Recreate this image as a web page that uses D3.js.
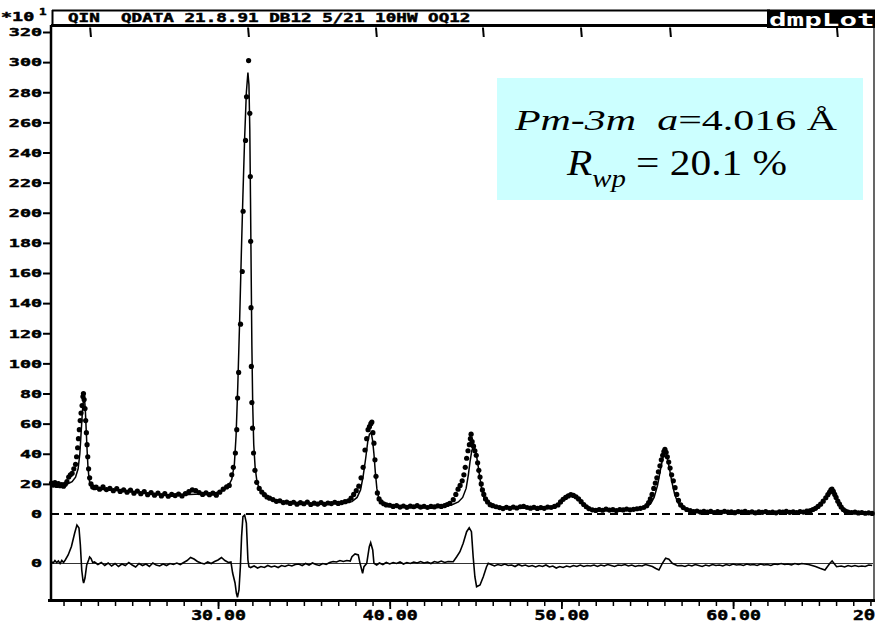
<!DOCTYPE html>
<html><head><meta charset="utf-8">
<script src="https://cdn.jsdelivr.net/npm/d3@7"></script>
<style>body{margin:0;background:#fff} svg{display:block}</style>
</head><body>
<svg id="c" width="875" height="625"></svg>
<script>
// ---- data: [2theta (deg), counts/10] ----
const observed = [[20.30,20.5],[20.40,19.2],[20.50,20.8],[20.60,19.0],[20.70,20.2],[20.80,18.8],[20.90,19.6],[21.00,18.5],[21.10,19.8],[21.20,21.5],[21.30,24.5],[21.40,26.0],[21.50,27.0],[21.60,30.0],[21.70,33.0],[21.76,38.0],[21.82,44.0],[21.87,50.0],[21.92,56.0],[21.97,62.0],[22.02,67.0],[22.08,72.0],[22.13,78.0],[22.16,80.0],[22.20,76.0],[22.25,70.0],[22.29,62.0],[22.33,54.0],[22.37,46.0],[22.41,38.0],[22.46,30.0],[22.52,24.0],[22.60,20.0],[22.70,18.0],[22.80,17.5],[22.90,17.8],[23.10,16.5],[23.30,18.0],[23.50,16.2],[23.70,17.0],[23.90,15.5],[24.10,16.8],[24.30,15.0],[24.50,16.0],[24.70,14.5],[24.90,15.8],[25.10,13.8],[25.30,15.2],[25.50,13.5],[25.70,14.8],[25.90,12.8],[26.10,14.2],[26.30,12.5],[26.50,13.8],[26.70,12.0],[26.90,13.5],[27.10,11.8],[27.30,13.0],[27.50,12.2],[27.70,13.2],[27.90,12.0],[28.10,13.5],[28.30,14.8],[28.50,16.0],[28.70,15.5],[28.90,14.2],[29.10,13.0],[29.30,14.0],[29.50,12.8],[29.70,13.8],[29.90,12.5],[30.10,14.5],[30.30,16.5],[30.50,18.0],[30.65,19.0],[30.80,26.0],[30.89,31.0],[31.01,40.5],[31.09,56.0],[31.14,77.0],[31.20,94.0],[31.31,126],[31.41,161],[31.46,201],[31.60,248],[31.66,277],[31.78,301],[31.85,266],[31.88,224],[31.90,181],[31.92,137],[31.94,98],[31.97,74],[32.01,57],[32.07,40.5],[32.15,29],[32.25,21],[32.40,17],[32.55,14.6],[32.70,12.8],[32.85,11.3],[33.00,10.5],[33.20,9.6],[33.40,8.4],[33.60,8.8],[33.80,7.6],[34.00,7.9],[34.20,7.0],[34.40,7.8],[34.60,6.5],[34.80,7.5],[35.00,6.8],[35.20,7.9],[35.40,6.3],[35.60,7.2],[35.80,6.6],[36.00,7.6],[36.20,6.4],[36.40,7.3],[36.60,6.9],[36.80,7.8],[37.00,7.0],[37.20,7.6],[37.40,8.2],[37.60,8.8],[37.75,10.5],[37.90,13.0],[38.05,15.5],[38.20,18.5],[38.33,24.0],[38.45,31.0],[38.56,42.5],[38.66,50.0],[38.74,56.0],[38.82,58.0],[38.90,60.0],[38.96,61.0],[39.02,54.0],[39.08,47.0],[39.14,36.0],[39.20,25.0],[39.28,14.0],[39.38,10.0],[39.50,8.0],[39.65,6.8],[39.80,6.0],[40.00,5.8],[40.20,5.0],[40.40,5.6],[40.60,4.6],[40.80,5.3],[41.00,4.4],[41.20,5.2],[41.40,4.8],[41.60,5.5],[41.80,4.5],[42.00,5.1],[42.20,4.3],[42.40,5.0],[42.60,4.7],[42.80,5.4],[43.00,5.0],[43.20,5.6],[43.35,6.3],[43.50,7.0],[43.70,9.5],[43.85,13.0],[43.98,16.5],[44.10,19.0],[44.22,22.0],[44.32,26.0],[44.40,31.0],[44.48,37.0],[44.56,42.0],[44.64,46.0],[44.70,50.0],[44.74,53.0],[44.80,48.0],[44.88,45.0],[44.96,42.0],[45.04,39.0],[45.12,34.0],[45.19,29.0],[45.26,24.5],[45.33,20.0],[45.40,16.0],[45.48,13.0],[45.58,10.0],[45.70,8.0],[45.85,6.2],[46.00,5.5],[46.20,4.8],[46.40,4.2],[46.60,3.6],[46.80,4.4],[47.00,3.8],[47.20,4.5],[47.40,4.0],[47.60,4.8],[47.80,5.0],[48.00,4.3],[48.20,3.9],[48.40,4.4],[48.60,3.7],[48.80,4.2],[49.00,3.8],[49.20,4.5],[49.40,4.3],[49.60,5.0],[49.80,6.0],[49.95,8.0],[50.10,9.8],[50.25,11.0],[50.40,12.0],[50.55,12.8],[50.70,12.3],[50.85,11.4],[51.00,10.0],[51.15,8.2],[51.30,6.3],[51.45,4.8],[51.60,3.6],[51.80,2.8],[52.00,2.4],[52.20,3.0],[52.40,2.5],[52.60,3.2],[52.80,2.6],[53.00,2.9],[53.20,2.3],[53.40,3.0],[53.60,2.7],[53.80,3.3],[54.00,2.8],[54.20,3.1],[54.40,3.5],[54.60,3.8],[54.80,4.3],[54.97,5.5],[55.08,7.5],[55.18,10.0],[55.28,13.0],[55.38,17.0],[55.47,20.5],[55.56,24.0],[55.65,28.0],[55.74,32.0],[55.82,36.0],[55.90,39.0],[55.97,41.5],[56.03,43.0],[56.10,41.0],[56.17,38.0],[56.25,34.5],[56.33,30.5],[56.42,26.0],[56.52,22.0],[56.62,17.5],[56.72,13.0],[56.82,9.0],[56.95,6.0],[57.10,4.2],[57.30,3.0],[57.50,2.2],[57.70,1.6],[57.90,2.0],[58.10,1.3],[58.30,1.8],[58.50,1.2],[58.70,1.7],[58.90,1.0],[59.10,1.6],[59.30,1.1],[59.50,1.8],[59.70,1.3],[59.90,1.5],[60.10,0.9],[60.30,1.6],[60.50,1.2],[60.70,1.7],[60.90,1.0],[61.10,1.4],[61.30,0.8],[61.50,1.5],[61.70,1.1],[61.90,1.6],[62.10,1.0],[62.30,1.3],[62.50,0.8],[62.70,1.5],[62.90,1.2],[63.10,1.7],[63.30,1.1],[63.50,1.5],[63.70,1.0],[63.90,1.6],[64.10,1.3],[64.30,1.9],[64.50,2.2],[64.65,3.0],[64.80,3.8],[64.95,5.0],[65.10,6.5],[65.25,8.5],[65.40,10.8],[65.52,12.8],[65.62,14.5],[65.70,16.0],[65.76,16.5],[65.84,15.0],[65.92,13.0],[66.00,11.0],[66.10,8.5],[66.20,6.5],[66.30,4.5],[66.42,3.0],[66.55,2.0],[66.70,1.3],[66.90,1.0],[67.10,1.2],[67.30,0.7],[67.50,1.0],[67.70,0.5],[67.90,0.8],[68.10,0.4]];

const calculated = [[20.27,19.8],[20.8,19.5],[21.2,19.8],[21.5,21.5],[21.7,24.5],[21.85,30],[21.95,40],[22.03,55],[22.10,68],[22.17,77],[22.22,77],[22.27,69],[22.32,56],[22.37,43],[22.42,32],[22.48,24],[22.55,19.5],[22.7,17.2],[23.0,16.5],[24.0,15.8],[25.0,14.8],[26.0,13.8],[27.0,13.0],[28.0,12.8],[29.0,13.2],[29.8,14.0],[30.3,15.5],[30.6,18.5],[30.8,23],[30.95,33],[31.05,52],[31.15,85],[31.25,125],[31.35,170],[31.45,212],[31.55,250],[31.65,280],[31.74,293],[31.80,285],[31.85,255],[31.89,210],[31.93,160],[31.97,112],[32.02,72],[32.08,46],[32.16,31],[32.26,22],[32.4,16.5],[32.6,13],[32.9,10.5],[33.3,8.8],[33.8,7.7],[34.5,7.1],[35.5,6.9],[36.5,6.9],[37.3,7.2],[37.8,8.2],[38.1,11],[38.3,16],[38.45,25],[38.6,37],[38.72,48],[38.82,53],[38.92,54],[39.0,49],[39.08,40],[39.16,28],[39.25,17],[39.35,11],[39.5,8],[39.8,6.3],[40.5,5.4],[41.5,5.0],[42.5,4.9],[43.2,5.2],[43.6,6.0],[44.0,8.0],[44.25,11],[44.45,17],[44.58,26],[44.68,35],[44.78,42],[44.87,44.5],[44.95,43.5],[45.05,39],[45.15,32],[45.25,24],[45.35,17],[45.45,12],[45.6,8.5],[45.8,6.4],[46.1,5.2],[46.6,4.4],[47.5,4.2],[48.5,4.0],[49.3,4.2],[49.7,5.0],[50.0,7.5],[50.2,9.8],[50.4,11.5],[50.6,12.3],[50.8,11.6],[51.0,9.8],[51.2,7.4],[51.4,5.2],[51.7,3.4],[52.2,2.7],[53.5,2.7],[54.4,3.1],[54.9,4.3],[55.2,6.8],[55.4,11],[55.6,19],[55.78,30],[55.92,38],[56.03,41],[56.13,39],[56.28,31],[56.43,21.5],[56.6,13],[56.78,7.5],[56.95,4.8],[57.3,2.8],[58.0,1.7],[60.0,1.3],[62.0,1.2],[64.0,1.4],[64.6,2.2],[64.9,3.8],[65.15,6.5],[65.35,9.8],[65.52,13],[65.66,15.2],[65.78,15.6],[65.9,13.6],[66.04,9.6],[66.2,6],[66.38,3.2],[66.6,1.7],[67.0,1.0],[68.15,0.5]];

const difference = [[20.27,0.2],[20.4,0.05],[20.5,0.3],[20.6,0.1],[20.7,0.25],[20.8,0.0],[20.9,0.3],[21.0,0.1],[21.1,0.35],[21.27,0.85],[21.46,1.7],[21.65,3.05],[21.78,3.85],[21.9,3.55],[21.98,1.85],[22.06,-0.65],[22.13,-1.65],[22.17,-1.95],[22.25,-1.45],[22.35,-0.15],[22.46,0.35],[22.52,0.65],[22.6,0.5],[22.7,0.1],[22.8,0.15],[23.0,-0.1],[23.2,0.1],[23.4,-0.2],[23.6,0.05],[23.8,-0.25],[24.0,0.0],[24.2,-0.3],[24.4,-0.05],[24.6,-0.2],[24.8,0.1],[25.0,-0.15],[25.2,-0.35],[25.4,0.0],[25.6,-0.2],[25.8,-0.05],[26.0,-0.3],[26.2,0.05],[26.4,-0.15],[26.6,-0.25],[26.8,-0.05],[27.0,-0.2],[27.2,0.0],[27.4,-0.1],[27.6,0.05],[27.8,-0.1],[28.0,0.1],[28.2,0.3],[28.4,0.6],[28.6,0.45],[28.8,0.2],[29.0,0.05],[29.2,-0.05],[29.4,0.15],[29.6,0.0],[29.8,0.2],[30.0,0.35],[30.2,0.6],[30.4,0.3],[30.6,0.1],[30.75,0.15],[30.85,-0.95],[30.99,-1.95],[31.07,-2.98],[31.13,-3.38],[31.22,-2.65],[31.30,-0.32],[31.37,2.68],[31.45,4.68],[31.55,4.85],[31.65,4.05],[31.74,0.35],[31.80,-0.32],[31.9,-0.4],[32.1,-0.25],[32.3,-0.45],[32.5,-0.3],[32.7,-0.4],[32.9,-0.2],[33.1,-0.35],[33.3,-0.25],[33.5,-0.4],[33.7,-0.2],[33.9,-0.3],[34.1,-0.15],[34.3,-0.25],[34.5,-0.1],[34.7,-0.05],[34.9,-0.2],[35.1,0.0],[35.3,-0.15],[35.5,0.05],[35.7,-0.1],[35.9,-0.2],[36.1,0.0],[36.3,-0.1],[36.5,0.1],[36.7,0.2],[36.9,0.15],[37.1,0.3],[37.3,0.2],[37.5,0.3],[37.7,0.25],[37.8,0.68],[37.98,0.95],[38.17,0.85],[38.27,0.02],[38.42,-0.98],[38.5,-0.32],[38.66,0.02],[38.81,1.68],[38.89,2.08],[39.01,1.35],[39.08,0.02],[39.24,-0.15],[39.4,0.05],[39.6,-0.1],[39.8,0.1],[40.0,-0.05],[40.2,0.1],[40.4,0.0],[40.6,0.15],[40.8,-0.05],[41.0,0.1],[41.2,0.0],[41.4,0.15],[41.6,0.05],[41.8,0.2],[42.0,0.05],[42.2,0.15],[42.4,0.0],[42.6,0.2],[42.8,0.1],[43.0,0.25],[43.2,0.1],[43.4,0.2],[43.7,0.18],[43.9,0.68],[44.09,1.18],[44.28,2.02],[44.48,3.18],[44.63,3.58],[44.76,3.18],[44.86,0.68],[44.96,-1.32],[45.06,-2.32],[45.26,-2.15],[45.45,-1.32],[45.64,-0.32],[45.74,0.02],[45.9,-0.1],[46.1,-0.25],[46.3,-0.1],[46.5,-0.2],[46.7,-0.05],[46.9,-0.2],[47.1,-0.15],[47.3,-0.3],[47.5,-0.1],[47.7,-0.25],[47.9,-0.15],[48.1,-0.3],[48.3,-0.2],[48.5,-0.35],[48.7,-0.2],[48.9,-0.3],[49.1,-0.15],[49.3,-0.35],[49.5,-0.25],[49.7,-0.45],[49.9,-0.3],[50.1,-0.4],[50.3,-0.25],[50.5,-0.35],[50.7,-0.2],[50.9,-0.3],[51.1,-0.15],[51.3,-0.3],[51.5,-0.2],[51.7,-0.25],[51.9,-0.15],[52.1,-0.3],[52.3,-0.15],[52.5,-0.25],[52.7,-0.1],[52.9,-0.2],[53.1,-0.3],[53.3,-0.15],[53.5,-0.2],[53.7,-0.1],[53.9,-0.25],[54.1,-0.15],[54.3,-0.3],[54.5,-0.2],[54.7,-0.25],[54.9,-0.1],[55.1,-0.2],[55.3,-0.3],[55.5,-0.5],[55.68,-0.65],[55.88,0.02],[56.07,0.52],[56.26,0.42],[56.46,0.02],[56.75,-0.22],[57.0,-0.2],[57.2,-0.3],[57.4,-0.15],[57.6,-0.25],[57.8,-0.1],[58.0,-0.2],[58.2,-0.3],[58.4,-0.15],[58.6,-0.25],[58.8,-0.1],[59.0,-0.2],[59.2,-0.15],[59.4,-0.25],[59.6,-0.1],[59.8,-0.2],[60.0,-0.05],[60.2,-0.15],[60.4,-0.1],[60.6,-0.2],[60.8,-0.05],[61.0,-0.15],[61.2,-0.1],[61.4,-0.2],[61.6,-0.05],[61.8,-0.15],[62.0,-0.1],[62.2,-0.2],[62.4,-0.05],[62.6,-0.1],[62.8,0.0],[63.0,-0.1],[63.2,-0.05],[63.4,-0.15],[63.6,0.0],[63.8,-0.1],[64.0,0.0],[64.2,-0.05],[64.4,-0.1],[64.6,-0.2],[64.8,-0.3],[65.06,-0.48],[65.35,-0.65],[65.64,0.02],[65.77,0.25],[66.03,-0.32],[66.3,-0.25],[66.5,-0.35],[66.7,-0.2],[66.9,-0.3],[67.1,-0.2],[67.3,-0.3],[67.5,-0.25],[67.7,-0.3],[67.9,-0.15],[68.1,-0.2]];

const reflections = [22.55, 31.75, 39.20, 45.43, 51.14, 56.33, 66.05];
const yTickValues = [20,40,60,80,100,120,140,160,180,200,220,240,260,280,300,320];
const xMajorTicks = [30, 40, 50, 60];
const xMinorTicks = d3.range(21, 69);
const headerText = "QIN  QDATA 21.8.91 DB12 5/21 10HW OQ12";
const xTitle = "2θ";

// ---- drawing ----
const svg = d3.select("#c");
const mono = "'DejaVu Sans Mono','Liberation Mono',monospace";
const serif = "'Liberation Serif','Times New Roman',serif";
const x = d3.scaleLinear().domain([20.27, 68.15]).range([51, 873]);
const y = d3.scaleLinear().domain([0, 320]).range([514, 32]);
const yD = d3.scaleLinear().domain([-1, 1]).range([573.5, 553.5]);

function bold(sel, size) {
  return sel.attr("font-family", mono).attr("font-weight", "bold").attr("font-size", size)
    .attr("fill", "#000").attr("stroke", "#000").attr("stroke-width", 0.45);
}

// annotation box
svg.append("rect").attr("x",497).attr("y",78).attr("width",366).attr("height",122).attr("fill","#ccffff");
const t1 = svg.append("text").attr("transform","translate(676,130) scale(1.4,1)")
  .attr("text-anchor","middle").attr("font-family",serif).attr("font-size",30).attr("fill","#000");
t1.append("tspan").attr("font-style","italic").text("Pm-3m");
t1.append("tspan").text("\u00a0\u00a0");
t1.append("tspan").attr("font-style","italic").text("a");
t1.append("tspan").text("=4.016 Å");
const t2 = svg.append("text").attr("transform","translate(677,175) scale(1.15,1)")
  .attr("text-anchor","middle").attr("font-family",serif).attr("font-size",36).attr("fill","#000");
t2.append("tspan").attr("font-style","italic").text("R");
t2.append("tspan").attr("font-style","italic").attr("font-size",25).attr("dy",12).text("wp");
t2.append("tspan").attr("dy",-12).text("\u00a0=\u00a020.1\u00a0%");

// zero lines
svg.append("line").attr("x1",51).attr("x2",873).attr("y1",y(0)).attr("y2",y(0))
  .attr("stroke","#000").attr("stroke-width",2).attr("stroke-dasharray","8,5");
svg.append("line").attr("x1",51).attr("x2",873).attr("y1",yD(0)).attr("y2",yD(0))
  .attr("stroke","#000").attr("stroke-width",0.8);

// calculated line
svg.append("path").datum(calculated)
  .attr("d", d3.line().x(d=>x(d[0])).y(d=>y(d[1])))
  .attr("fill","none").attr("stroke","#000").attr("stroke-width",1.5);
// observed points
svg.append("g").selectAll("circle").data(observed).join("circle")
  .attr("cx",d=>x(d[0])).attr("cy",d=>y(d[1])).attr("r",2.6).attr("fill","#000");
// difference curve
svg.append("path").datum(difference)
  .attr("d", d3.line().x(d=>x(d[0])).y(d=>yD(d[1])))
  .attr("fill","none").attr("stroke","#000").attr("stroke-width",1.6);

// reflection markers
svg.append("g").selectAll("line").data(reflections).join("line")
  .attr("x1",d=>x(d)).attr("x2",d=>x(d)+0.8).attr("y1",27.5).attr("y2",37)
  .attr("stroke","#000").attr("stroke-width",2);

// frame lines
svg.append("line").attr("x1",51).attr("x2",51).attr("y1",25).attr("y2",601).attr("stroke","#000").attr("stroke-width",2.5);
svg.append("line").attr("x1",48).attr("x2",875).attr("y1",600.5).attr("y2",600.5).attr("stroke","#000").attr("stroke-width",3);
svg.append("line").attr("x1",874).attr("x2",874).attr("y1",25).attr("y2",601).attr("stroke","#000").attr("stroke-width",1.2);

// y axis
const gY = svg.append("g").attr("transform","translate(51,0)")
  .call(d3.axisLeft(y).tickValues(yTickValues).tickSize(8).tickFormat(d3.format("d")));
gY.select(".domain").remove();
gY.selectAll("line").attr("stroke","#000").attr("stroke-width",2);
bold(gY.selectAll("text").attr("x",null).attr("dy",null)
  .attr("transform","translate(-9,3.8) scale(1.75,1)"), 10.5);
[y(0), yD(0)].forEach(v => {
  bold(svg.append("text").attr("transform",`translate(42,${v+3.8}) scale(1.75,1)`)
    .attr("text-anchor","end"), 10.5).text("0");
});

// x axis
const gXm = svg.append("g").attr("transform","translate(0,601)")
  .call(d3.axisBottom(x).tickValues(xMinorTicks).tickSize(5).tickFormat(""));
gXm.select(".domain").remove();
gXm.selectAll("line").attr("stroke","#000").attr("stroke-width",1.5);
const gX = svg.append("g").attr("transform","translate(0,601)")
  .call(d3.axisBottom(x).tickValues(xMajorTicks).tickSize(8).tickFormat(d3.format(".2f")));
gX.select(".domain").remove();
gX.selectAll("line").attr("stroke","#000").attr("stroke-width",1.8);
bold(gX.selectAll("text").attr("y",null).attr("dy",null)
  .attr("transform","translate(0,18.5) scale(1.35,1)"), 13.5);
bold(svg.append("text").attr("transform","translate(853,619.5) scale(1.35,1)"), 13.5).text(xTitle);

// header
bold(svg.append("text").attr("transform","translate(1,21) scale(1.6,1)"), 11.5).text("*10");
bold(svg.append("text").attr("transform","translate(39,15) scale(1.4,1)"), 9).text("1");
svg.append("line").attr("x1",52.5).attr("x2",52.5).attr("y1",10).attr("y2",26).attr("stroke","#000").attr("stroke-width",2);
svg.append("line").attr("x1",52).attr("x2",770).attr("y1",10.5).attr("y2",10.5).attr("stroke","#000").attr("stroke-width",2);
svg.append("line").attr("x1",51).attr("x2",875).attr("y1",25.5).attr("y2",25.5).attr("stroke","#000").attr("stroke-width",3);
bold(svg.append("text").attr("transform","translate(68,22) scale(1.53,1)"), 11.5)
  .text(headerText.replace(/ /g,"\u00a0"));
svg.append("rect").attr("x",767).attr("y",9.5).attr("width",110).attr("height",18.5).attr("fill","#000");
svg.append("text").attr("transform","translate(769,25.5) scale(1.72,1)")
  .attr("font-family",mono).attr("font-weight","bold").attr("font-size",17).attr("fill","#fff").text("dmpLot");
</script>
</body></html>
